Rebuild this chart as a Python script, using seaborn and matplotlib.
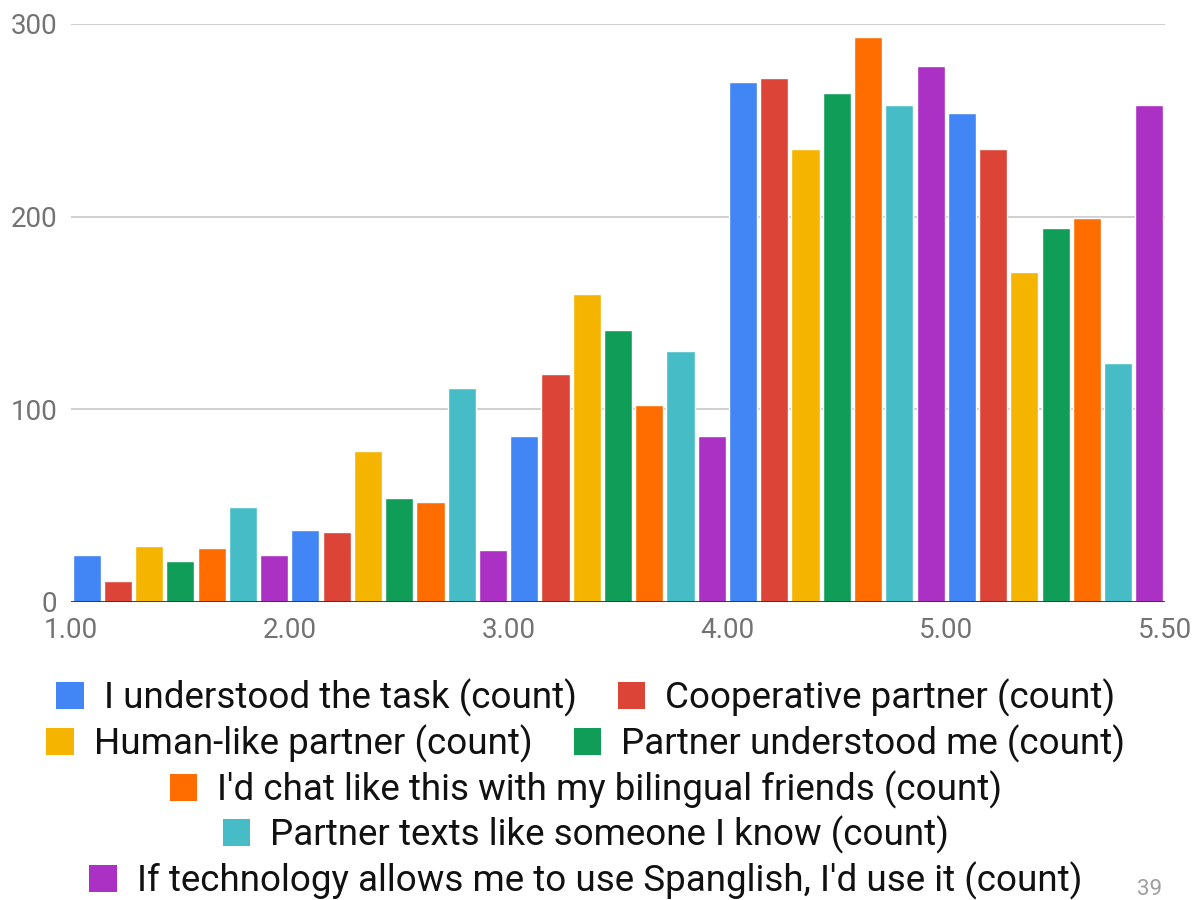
import matplotlib
matplotlib.use("Agg")
import matplotlib.pyplot as plt
from matplotlib.patches import Patch
import numpy as np
import pandas as pd
import seaborn as sns

# Histogram buckets and their edge labels
buckets = ["1-2", "2-3", "3-4", "4-5", "5-5.5"]
edge_labels = ["1.00", "2.00", "3.00", "4.00", "5.00", "5.50"]

series = [
    "I understood the task (count)",
    "Cooperative partner (count)",
    "Human-like partner (count)",
    "Partner understood me (count)",
    "I'd chat like this with my bilingual friends (count)",
    "Partner texts like someone I know (count)",
    "If technology allows me to use Spanglish, I'd use it (count)",
]

understood_task = [24, 37, 86, 270, 254]
cooperative = [11, 36, 118, 272, 235]
human_like = [29, 78, 160, 235, 171]
partner_understood = [21, 54, 141, 264, 194]
chat_bilingual = [28, 52, 102, 293, 199]
texts_like_known = [49, 111, 130, 258, 124]
use_spanglish = [24, 27, 86, 278, 258]

colors = ["#4285F4", "#DB4437", "#F4B400", "#0F9D58", "#FF6D00", "#46BDC6", "#AB30C4"]

all_values = [understood_task, cooperative, human_like, partner_understood,
              chat_bilingual, texts_like_known, use_spanglish]

rows = []
for name, vals in zip(series, all_values):
    for b, v in zip(buckets, vals):
        rows.append({"bucket": b, "count": v, "series": name})
df = pd.DataFrame(rows)

sns.set_theme(style="white")
plt.rcParams["font.family"] = ["Roboto", "DejaVu Sans"]

fig = plt.figure(figsize=(11.96, 9), dpi=100)
ax = fig.add_axes([71 / 1196, 1 - 601.7 / 900, (1165 - 71) / 1196, (601.7 - 24) / 900])

sns.barplot(data=df, x="bucket", y="count", hue="series", order=buckets,
            hue_order=series, palette=colors, width=1.0, gap=0.1,
            saturation=1, legend=False, ax=ax, zorder=2)

ax.set_xlim(-0.5, len(buckets) - 0.5)
ax.set_ylim(0, 300)
ax.set_yticks([0, 100, 200, 300])
ax.set_xticks(np.arange(len(edge_labels)) - 0.5)
ax.set_xticklabels(edge_labels)
ax.set_xlabel("")
ax.set_ylabel("")

for y in [100, 200, 300]:
    ax.axhline(y, color="#cccccc", lw=1.3, zorder=1)
ax.axhline(0, color="#333333", lw=1.3, zorder=3)

for s in ax.spines.values():
    s.set_visible(False)
ax.tick_params(axis="both", length=0, labelsize=20, colors="#737373")
ax.tick_params(axis="y", pad=10)
ax.tick_params(axis="x", pad=11)

# Legend laid out in centered rows
layout = [[0, 1], [2, 3], [4], [5], [6]]
row_y = [698, 744, 790, 835, 881]
for idx, yy in zip(layout, row_y):
    handles = [Patch(facecolor=colors[i], edgecolor="none", label=series[i]) for i in idx]
    leg = fig.legend(handles=handles, loc="center", ncol=len(idx),
                     bbox_to_anchor=(586 / 1196, 1 - yy / 900),
                     frameon=False, fontsize=26.5, handlelength=0.75, handleheight=0.75,
                     handletextpad=0.55, columnspacing=1.1, borderpad=0,
                     borderaxespad=0)
    for t in leg.get_texts():
        t.set_color("#111111")

fig.text(1150 / 1196, 1 - 879 / 900, "39", ha="center", va="top",
         fontsize=16, color="#9e9e9e")

fig.savefig("out.png", dpi=100)
